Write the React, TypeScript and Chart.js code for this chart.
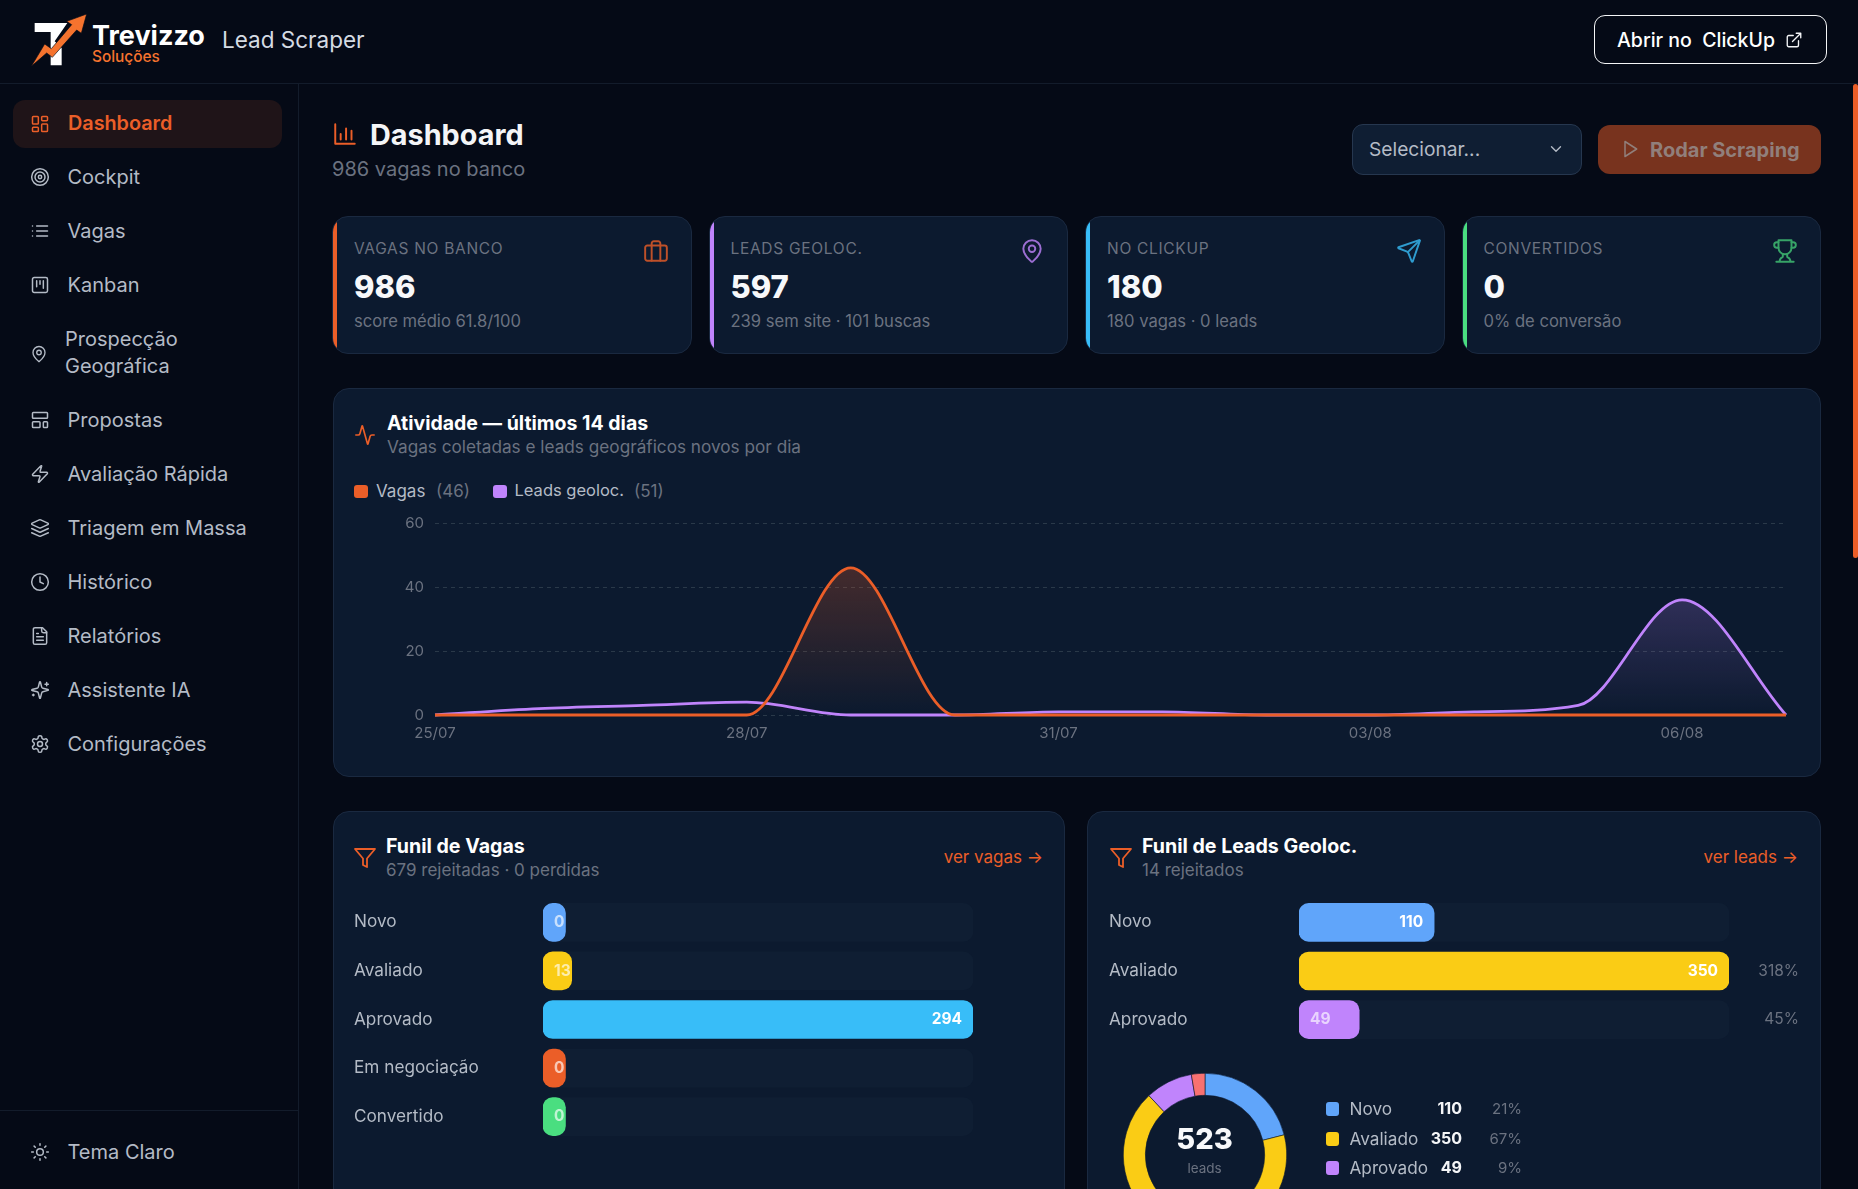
import { useEffect, useRef } from 'react';
import type { CSSProperties, ReactNode } from 'react';
import { Chart, registerables } from 'chart.js';

Chart.register(...registerables);

const FONT = 'Inter, "Noto Sans", sans-serif';

const BG = '#050a16';
const CARD = '#0c1a2f';
const LINE = '#1a2940';
const TRACK = '#0f1e33';
const ORANGE = '#eb5e28';
const PURPLE = '#c084fc';
const MUTED = '#6b7280';
const SOFT = '#b4bbc6';

// Atividade
const days = ['25/07', '26/07', '27/07', '28/07', '29/07', '30/07', '31/07', '01/08', '02/08', '03/08', '04/08', '05/08', '06/08', '07/08'];
const vagasPerDay = [0, 0, 0, 0, 46, 0, 0, 0, 0, 0, 0, 0, 0, 0];
const leadsPerDay = [0, 2, 3, 4, 0, 0, 1, 1, 0, 0, 1, 3, 36, 0];
const yTicks = [0, 20, 40, 60];

// Funil de vagas
const vagasStages = ['Novo', 'Avaliado', 'Aprovado', 'Em negociação', 'Convertido'];
const vagasStageValues = [0, 13, 294, 0, 0];
const vagasStageColors = ['#60a5fa', '#facc15', '#38bdf8', ORANGE, '#4ade80'];

// Funil de leads
const leadStages = ['Novo', 'Avaliado', 'Aprovado'];
const leadStageValues = [110, 350, 49];
const leadStageColors = ['#60a5fa', '#facc15', PURPLE];
const leadStageNotes = ['', '318%', '45%'];

// Donut
const donutLabels = ['Novo', 'Avaliado', 'Aprovado', 'Rejeitado'];
const donutValues = [110, 350, 49, 14];
const donutColors = ['#60a5fa', '#facc15', PURPLE, '#f87171'];
const donutShares = ['21%', '67%', '9%', '3%'];

const navItems: [string, string, number][] = [
  ['target', 'Cockpit', 177],
  ['list', 'Vagas', 231],
  ['kanban', 'Kanban', 285],
  ['template', 'Propostas', 420],
  ['zap', 'Avaliação Rápida', 474],
  ['layers', 'Triagem em Massa', 528],
  ['clock', 'Histórico', 582],
  ['file', 'Relatórios', 636],
  ['sparkles', 'Assistente IA', 690],
  ['settings', 'Configurações', 744],
];

const kpis = [
  { label: 'VAGAS NO BANCO', value: '986', sub: 'score médio 61.8/100', color: ORANGE, icon: 'briefcase', iconAlpha: 0.8 },
  { label: 'LEADS GEOLOC.', value: '597', sub: '239 sem site · 101 buscas', color: PURPLE, icon: 'pin', iconAlpha: 0.8 },
  { label: 'NO CLICKUP', value: '180', sub: '180 vagas · 0 leads', color: '#38bdf8', icon: 'send', iconAlpha: 0.8 },
  { label: 'CONVERTIDOS', value: '0', sub: '0% de conversão', color: '#4ade80', icon: 'trophy', iconAlpha: 0.7 },
];

const ICONS: Record<string, ReactNode> = {
  dashboard: (<><rect x="3" y="3" width="7" height="9" rx="1" /><rect x="14" y="3" width="7" height="5" rx="1" /><rect x="14" y="12" width="7" height="9" rx="1" /><rect x="3" y="16" width="7" height="5" rx="1" /></>),
  target: (<><circle cx="12" cy="12" r="10" /><circle cx="12" cy="12" r="6" /><circle cx="12" cy="12" r="2" /></>),
  list: (<><path d="M3 6h.01M3 12h.01M3 18h.01M8 6h13M8 12h13M8 18h13" /></>),
  kanban: (<><rect x="3" y="3" width="18" height="18" rx="2" /><path d="M8 7v7M12 7v4M16 7v9" /></>),
  pin: (<><path d="M20 10c0 4.993-5.539 10.193-7.399 11.799a1 1 0 0 1-1.202 0C9.539 20.193 4 14.993 4 10a8 8 0 0 1 16 0" /><circle cx="12" cy="10" r="3" /></>),
  template: (<><rect x="3" y="3" width="18" height="7" rx="1" /><rect x="3" y="14" width="9" height="7" rx="1" /><rect x="16" y="14" width="5" height="7" rx="1" /></>),
  zap: (<path d="M4 14a1 1 0 0 1-.78-1.63l9.9-10.2a.5.5 0 0 1 .86.46l-1.92 6.02A1 1 0 0 0 13 10h7a1 1 0 0 1 .78 1.63l-9.9 10.2a.5.5 0 0 1-.86-.46l1.92-6.02A1 1 0 0 0 11 14z" />),
  layers: (<><path d="m12.83 2.18a2 2 0 0 0-1.66 0L2.6 6.08a1 1 0 0 0 0 1.83l8.58 3.91a2 2 0 0 0 1.66 0l8.58-3.9a1 1 0 0 0 0-1.83Z" /><path d="m22 17.65-9.17 4.16a2 2 0 0 1-1.66 0L2 17.65" /><path d="m22 12.65-9.17 4.16a2 2 0 0 1-1.66 0L2 12.65" /></>),
  clock: (<><circle cx="12" cy="12" r="10" /><path d="M12 6v6l4 2" /></>),
  file: (<><path d="M15 2H6a2 2 0 0 0-2 2v16a2 2 0 0 0 2 2h12a2 2 0 0 0 2-2V7Z" /><path d="M14 2v4a2 2 0 0 0 2 2h4" /><path d="M10 9H8M16 13H8M16 17H8" /></>),
  sparkles: (<><path d="M9.937 15.5A2 2 0 0 0 8.5 14.063l-6.135-1.582a.5.5 0 0 1 0-.962L8.5 9.936A2 2 0 0 0 9.937 8.5l1.582-6.135a.5.5 0 0 1 .963 0L14.063 8.5A2 2 0 0 0 15.5 9.937l6.135 1.581a.5.5 0 0 1 0 .964L15.5 14.063a2 2 0 0 0-1.437 1.437l-1.582 6.135a.5.5 0 0 1-.963 0z" /><path d="M20 3v4M22 5h-4M4 17v2M5 18H3" /></>),
  settings: (<><path d="M12.22 2h-.44a2 2 0 0 0-2 2v.18a2 2 0 0 1-1 1.73l-.43.25a2 2 0 0 1-2 0l-.15-.08a2 2 0 0 0-2.73.73l-.22.38a2 2 0 0 0 .73 2.73l.15.1a2 2 0 0 1 1 1.72v.51a2 2 0 0 1-1 1.74l-.15.09a2 2 0 0 0-.73 2.73l.22.38a2 2 0 0 0 2.73.73l.15-.08a2 2 0 0 1 2 0l.43.25a2 2 0 0 1 1 1.73V20a2 2 0 0 0 2 2h.44a2 2 0 0 0 2-2v-.18a2 2 0 0 1 1-1.73l.43-.25a2 2 0 0 1 2 0l.15.08a2 2 0 0 0 2.73-.73l.22-.39a2 2 0 0 0-.73-2.73l-.15-.08a2 2 0 0 1-1-1.74v-.5a2 2 0 0 1 1-1.74l.15-.09a2 2 0 0 0 .73-2.73l-.22-.38a2 2 0 0 0-2.73-.73l-.15.08a2 2 0 0 1-2 0l-.43-.25a2 2 0 0 1-1-1.73V4a2 2 0 0 0-2-2z" /><circle cx="12" cy="12" r="3" /></>),
  sun: (<><circle cx="12" cy="12" r="4" /><path d="M12 2v2M12 20v2M4.93 4.93l1.41 1.41M17.66 17.66l1.41 1.41M2 12h2M20 12h2M6.34 17.66l-1.41 1.41M19.07 4.93l-1.41 1.41" /></>),
  external: (<><path d="M15 3h6v6M10 14 21 3" /><path d="M18 13v6a2 2 0 0 1-2 2H5a2 2 0 0 1-2-2V8a2 2 0 0 1 2-2h6" /></>),
  chevron: (<path d="m6 9 6 6 6-6" />),
  play: (<path d="M6 3l14 9-14 9V3z" />),
  briefcase: (<><rect x="2" y="7" width="20" height="14" rx="2" /><path d="M16 21V5a2 2 0 0 0-2-2h-4a2 2 0 0 0-2 2v16" /></>),
  send: (<><path d="M14.536 21.686a.5.5 0 0 0 .937-.024l6.5-19a.496.496 0 0 0-.635-.635l-19 6.5a.5.5 0 0 0-.024.937l7.93 3.18a2 2 0 0 1 1.112 1.11z" /><path d="m21.854 2.147-10.94 10.939" /></>),
  trophy: (<><path d="M6 9H4.5a2.5 2.5 0 0 1 0-5H6M18 9h1.5a2.5 2.5 0 0 0 0-5H18M4 22h16M10 14.66V17c0 .55-.47.98-.97 1.21C7.85 18.75 7 20.24 7 22M14 14.66V17c0 .55.47.98.97 1.21C16.15 18.75 17 20.24 17 22" /><path d="M18 2H6v7a6 6 0 0 0 12 0V2Z" /></>),
  activity: (<path d="M22 12h-2.48a2 2 0 0 0-1.93 1.46l-2.35 8.36a.25.25 0 0 1-.48 0L9.24 2.18a.25.25 0 0 0-.48 0l-2.35 8.36A2 2 0 0 1 4.49 12H2" />),
  funnel: (<path d="M22 3H2l8 9.46V19l4 2v-8.54L22 3z" />),
  bars: (<path d="M3 3v18h18M8 17v-5M13 17V7M18 17v-8" />),
};

const Icon = ({ name, x, y, size = 24, color, opacity = 1, stroke = 1.8 }: { name: string; x: number; y: number; size?: number; color: string; opacity?: number; stroke?: number }) => (
  <svg
    viewBox="0 0 24 24"
    width={size}
    height={size}
    fill="none"
    stroke={color}
    strokeWidth={stroke}
    strokeLinecap="round"
    strokeLinejoin="round"
    style={{ position: 'absolute', left: x - size / 2, top: y - size / 2, opacity }}
  >
    {ICONS[name]}
  </svg>
);

type TextProps = { x: number; y: number; size: number; color: string; weight?: number; right?: boolean; spacing?: number; children: ReactNode };

// y is the vertical centre of the line; with right set, x is the right edge
const Text = ({ x, y, size, color, weight = 400, right, spacing = 0, children }: TextProps) => {
  const style: CSSProperties = {
    position: 'absolute',
    top: y,
    transform: 'translateY(-50%)',
    fontSize: size,
    lineHeight: 1.2,
    fontWeight: weight,
    letterSpacing: spacing,
    color,
    whiteSpace: 'nowrap',
  };
  if (right) style.right = 1858 - x;
  else style.left = x;
  return <div style={style}>{children}</div>;
};

const Box = ({ x, y, w, h, style, children }: { x: number; y: number; w: number; h: number; style: CSSProperties; children?: ReactNode }) => (
  <div style={{ position: 'absolute', left: x, top: y, width: w, height: h, boxSizing: 'border-box', ...style }}>{children}</div>
);

const cardStyle: CSSProperties = { background: CARD, border: `1px solid ${LINE}`, borderRadius: 16 };

const ActivityChart = () => {
  const ref = useRef<HTMLCanvasElement>(null);

  useEffect(() => {
    if (!ref.current) return;

    const fade = (values: number[], rgb: string, alpha: number) => (ctx: any) => {
      const { chart } = ctx;
      if (!chart.chartArea) return 'transparent';
      const top = chart.scales.y.getPixelForValue(Math.max(...values));
      const g = chart.ctx.createLinearGradient(0, top, 0, chart.chartArea.bottom);
      g.addColorStop(0, `rgba(${rgb}, ${alpha})`);
      g.addColorStop(1, `rgba(${rgb}, 0)`);
      return g;
    };

    const chart = new Chart(ref.current, {
      type: 'line',
      data: {
        labels: days,
        datasets: [
          {
            label: 'Vagas',
            data: vagasPerDay,
            borderColor: ORANGE,
            backgroundColor: fade(vagasPerDay, '235, 94, 40', 0.25),
            fill: 'origin',
          },
          {
            label: 'Leads geoloc.',
            data: leadsPerDay,
            borderColor: PURPLE,
            backgroundColor: fade(leadsPerDay, '192, 132, 252', 0.2),
            fill: 'origin',
          },
        ],
      },
      options: {
        responsive: false,
        animation: false,
        events: [],
        clip: false,
        layout: { padding: { top: 24, right: 8 } },
        elements: {
          point: { radius: 0 },
          line: { borderWidth: 2.8, cubicInterpolationMode: 'monotone' },
        },
        plugins: { legend: { display: false }, tooltip: { enabled: false } },
        scales: {
          x: {
            grid: { display: false },
            border: { display: false },
            afterFit: (axis: any) => { axis.height = 30; },
            ticks: {
              autoSkip: false,
              maxRotation: 0,
              color: MUTED,
              font: { family: FONT, size: 15 },
              padding: 1,
              callback: (_v: any, i: number) => (i % 3 === 0 ? days[i] : ''),
            },
          },
          y: {
            min: yTicks[0],
            max: yTicks[yTicks.length - 1],
            afterFit: (axis: any) => { axis.width = 81; },
            afterBuildTicks: (axis: any) => { axis.ticks = yTicks.map((value) => ({ value })); },
            border: { display: false, dash: [4, 4] },
            grid: { color: '#2a3949', tickLength: 0, lineWidth: 1 },
            ticks: { color: MUTED, font: { family: FONT, size: 15 }, padding: 11 },
          },
        },
      },
    });

    return () => {
      chart.destroy();
    };
  }, []);

  return <canvas ref={ref} width={1440} height={246} style={{ position: 'absolute', left: 354, top: 499 }} />;
};

const stageLabels = {
  id: 'stageLabels',
  // a bar is never narrower than its count, as in the original
  beforeDatasetsDraw(chart: any) {
    const { ctx } = chart;
    ctx.save();
    ctx.font = `700 15.5px ${FONT}`;
    chart.getDatasetMeta(0).data.forEach((bar: any, i: number) => {
      const fit = ctx.measureText(String(chart.data.datasets[0].data[i])).width + 12;
      bar.x = Math.max(bar.x, bar.base + fit);
    });
    ctx.restore();
  },
  afterDatasetsDraw(chart: any) {
    const { ctx, chartArea } = chart;
    const notes: string[] = chart.options.plugins.stageLabels.notes;
    const bars = chart.getDatasetMeta(0).data;
    ctx.save();
    ctx.textBaseline = 'middle';
    bars.forEach((bar: any, i: number) => {
      const wide = bar.x - bar.base > 100;
      ctx.font = `700 15.5px ${FONT}`;
      ctx.fillStyle = wide ? '#ffffff' : 'rgba(255, 255, 255, 0.65)';
      ctx.textAlign = wide ? 'right' : 'left';
      ctx.fillText(String(chart.data.datasets[0].data[i]), wide ? bar.x - 11 : bar.base + 11, bar.y);
      if (notes[i]) {
        ctx.font = `400 15.5px ${FONT}`;
        ctx.fillStyle = MUTED;
        ctx.textAlign = 'right';
        ctx.fillText(notes[i], chartArea.right + 70, bar.y);
      }
    });
    ctx.restore();
  },
};

type FunnelProps = { stages: string[]; values: number[]; colors: string[]; notes: string[]; x: number; y: number; labelWidth: number };

const FunnelChart = ({ stages, values, colors, notes, x, y, labelWidth }: FunnelProps) => {
  const ref = useRef<HTMLCanvasElement>(null);
  const top = Math.max(...values);

  useEffect(() => {
    if (!ref.current) return;

    const chart = new Chart(ref.current, {
      type: 'bar',
      plugins: [stageLabels],
      data: {
        labels: stages,
        datasets: [
          {
            data: values,
            backgroundColor: colors,
            order: 1,
          },
          {
            data: values.map(() => top),
            backgroundColor: TRACK,
            order: 2,
          },
        ],
      },
      options: {
        responsive: false,
        animation: false,
        events: [],
        indexAxis: 'y',
        layout: { padding: { top: 16, bottom: 16, right: 70 } },
        elements: { bar: { borderRadius: 10, borderSkipped: false } },
        datasets: { bar: { grouped: false, barThickness: 38 } },
        plugins: { legend: { display: false }, tooltip: { enabled: false }, stageLabels: { notes } },
        scales: {
          x: { display: false, min: 0, max: top },
          y: {
            afterFit: (axis: any) => { axis.width = labelWidth; },
            grid: { display: false },
            border: { display: false },
            ticks: { crossAlign: 'far', autoSkip: false, color: SOFT, font: { family: FONT, size: 17.2 } },
          },
        },
      } as any,
    });

    return () => {
      chart.destroy();
    };
  }, []);

  return (
    <canvas
      ref={ref}
      width={labelWidth + 430 + 70}
      height={Math.ceil(stages.length * 48.5) + 32}
      style={{ position: 'absolute', left: x, top: y - 16 }}
    />
  );
};

const DonutChart = () => {
  const ref = useRef<HTMLCanvasElement>(null);

  useEffect(() => {
    if (!ref.current) return;

    const chart = new Chart(ref.current, {
      type: 'doughnut',
      data: {
        labels: donutLabels,
        datasets: [{ data: donutValues, backgroundColor: donutColors, borderColor: CARD, borderWidth: 0.6 }],
      },
      options: {
        responsive: false,
        animation: false,
        events: [],
        cutout: '73%',
        plugins: { legend: { display: false }, tooltip: { enabled: false } },
      },
    });

    return () => {
      chart.destroy();
    };
  }, []);

  return <canvas ref={ref} width={164} height={164} style={{ position: 'absolute', left: 1122.5, top: 1072.5 }} />;
};

const Logo = () => (
  <svg width={80} height={64} viewBox="0 0 240 192" style={{ position: 'absolute', left: 24, top: 8 }}>
    <path d="M32 45H130L92 100 113 120V172H80V72H32Z" fill="#ffffff" />
    <path d="M188 18 128 40 143 50 82 122 62 108 22 175 68 135 85 148 158 66 172 76Z" fill="#f5732e" stroke={BG} strokeWidth={2} />
  </svg>
);

export default function App() {
  return (
    <div style={{ position: 'fixed', inset: 0, overflow: 'hidden', background: BG, fontFamily: FONT }}>
      {/* top bar */}
      <Box x={0} y={83} w={1858} h={1} style={{ background: '#131c2b' }} />
      <Logo />
      <Text x={92} y={36} size={27} weight={700} color="#ffffff">Trevizzo</Text>
      <Text x={92} y={57} size={15.4} weight={500} color="#f5732e">Soluções</Text>
      <Text x={222} y={38.5} size={22.5} color="#d5dbe3">Lead Scraper</Text>
      <Box x={1594} y={15} w={233} h={49} style={{ border: '1px solid #f4f5f7', borderRadius: 11 }} />
      <Text x={1617} y={40.5} size={19.5} weight={500} color="#ffffff">Abrir no&nbsp; ClickUp</Text>
      <Icon name="external" x={1794} y={40} size={18} color="#f4f5f7" />

      {/* sidebar */}
      <Box x={298} y={84} w={1} h={1105} style={{ background: '#131c2b' }} />
      <Box x={13} y={100} w={269} h={48} style={{ background: '#1f1418', borderRadius: 12 }} />
      <Icon name="dashboard" x={40} y={124} size={20} color={ORANGE} />
      <Text x={68} y={123.5} size={19.8} weight={600} color={ORANGE}>Dashboard</Text>
      {navItems.map(([icon, label, y]) => (
        <div key={label}>
          <Icon name={icon} x={40} y={y} size={20} color={SOFT} />
          <Text x={67.5} y={y} size={20} color={SOFT}>{label}</Text>
        </div>
      ))}
      <Icon name="pin" x={38.5} y={354} size={18} color={SOFT} />
      <Text x={65} y={339} size={20} color={SOFT}>Prospecção</Text>
      <Text x={65} y={366} size={20} color={SOFT}>Geográfica</Text>
      <Box x={0} y={1110} w={298} h={1} style={{ background: '#131c2b' }} />
      <Icon name="sun" x={40} y={1152} size={20} color={SOFT} />
      <Text x={67.5} y={1152} size={20} color={SOFT}>Tema Claro</Text>

      {/* page title */}
      <Icon name="bars" x={345} y={134} size={26} color={ORANGE} />
      <Text x={370} y={135} size={28.8} weight={700} color="#f4f5f7">Dashboard</Text>
      <Text x={332} y={168.5} size={20} color={MUTED}>986 vagas no banco</Text>
      <Box x={1352} y={124} w={230} h={51} style={{ background: TRACK, border: '1px solid #26374f', borderRadius: 11 }} />
      <Text x={1369} y={149.5} size={19.2} color={SOFT}>Selecionar...</Text>
      <Icon name="chevron" x={1555.5} y={149} size={18} color={SOFT} />
      <Box x={1598} y={125} w={223} h={49} style={{ background: '#78331e', borderRadius: 12 }} />
      <Icon name="play" x={1630} y={149} size={20} color="#917f7b" />
      <Text x={1650} y={149.5} size={20} weight={700} color="#917f7b">Rodar Scraping</Text>

      {/* kpis */}
      {kpis.map((kpi, i) => {
        const x = 332 + i * 376.5;
        return (
          <div key={kpi.label}>
            <Box x={x} y={216} w={359.5} h={138} style={{ ...cardStyle, overflow: 'hidden' }}>
              <div style={{ position: 'absolute', left: -1, top: -1, bottom: -1, width: 5, background: kpi.color }} />
            </Box>
            <Text x={x + 22} y={249} size={15.5} spacing={0.7} weight={400} color={MUTED}>{kpi.label}</Text>
            <Text x={x + 22} y={286.5} size={31} weight={800} color="#f7f8fa">{kpi.value}</Text>
            <Text x={x + 22} y={322} size={16.6} color={MUTED}>{kpi.sub}</Text>
            <Icon name={kpi.icon} x={x + 323.5} y={251} size={26} color={kpi.color} opacity={kpi.iconAlpha} />
          </div>
        );
      })}

      {/* atividade */}
      <Box x={332.5} y={388} w={1488} h={389} style={cardStyle} />
      <Icon name="activity" x={365} y={435} size={22} color={ORANGE} />
      <Text x={387} y={423.5} size={19.5} weight={700} color="#ffffff">Atividade — últimos 14 dias</Text>
      <Text x={387} y={447} size={17.2} color={MUTED}>Vagas coletadas e leads geográficos novos por dia</Text>
      <Box x={354} y={485} w={14} h={13} style={{ background: ORANGE, borderRadius: 3 }} />
      <Text x={376} y={490.5} size={17} color={SOFT}>Vagas</Text>
      <Text x={436} y={490.5} size={17} color={MUTED}>(46)</Text>
      <Box x={493} y={485} w={14} h={13} style={{ background: PURPLE, borderRadius: 3 }} />
      <Text x={514.5} y={490.5} size={16.5} color={SOFT}>Leads geoloc.</Text>
      <Text x={634} y={490.5} size={17} color={MUTED}>(51)</Text>
      <ActivityChart />

      {/* funil de vagas */}
      <Box x={332.5} y={811} w={732} h={500} style={cardStyle} />
      <Icon name="funnel" x={365} y={858} size={24} color={ORANGE} />
      <Text x={386} y={846.5} size={19.6} weight={700} color="#ffffff">Funil de Vagas</Text>
      <Text x={386} y={869.5} size={17} color={MUTED}>679 rejeitadas · 0 perdidas</Text>
      <Text x={1043} y={857} right size={17} color={ORANGE}>ver vagas →</Text>
      <FunnelChart stages={vagasStages} values={vagasStageValues} colors={vagasStageColors} notes={[]} x={354} y={898} labelWidth={189} />

      {/* funil de leads */}
      <Box x={1087} y={811} w={734} h={500} style={cardStyle} />
      <Icon name="funnel" x={1121} y={858} size={24} color={ORANGE} />
      <Text x={1142} y={846.5} size={19.6} weight={700} color="#ffffff">Funil de Leads Geoloc.</Text>
      <Text x={1142} y={869.5} size={17} color={MUTED}>14 rejeitados</Text>
      <Text x={1798} y={857} right size={17} color={ORANGE}>ver leads →</Text>
      <FunnelChart stages={leadStages} values={leadStageValues} colors={leadStageColors} notes={leadStageNotes} x={1109} y={898} labelWidth={190} />

      {/* donut */}
      <DonutChart />
      <Text x={1204.5} y={1139} size={29} weight={800} color="#f7f8fa">
        <span style={{ display: 'block', transform: 'translateX(-50%)' }}>{donutValues.reduce((a, b) => a + b, 0)}</span>
      </Text>
      <Text x={1204.5} y={1168} size={13.5} color={MUTED}>
        <span style={{ display: 'block', transform: 'translateX(-50%)' }}>leads</span>
      </Text>
      {donutLabels.slice(0, 3).map((label, i) => {
        const y = 1109 + i * 29.7;
        return (
          <div key={label}>
            <Box x={1326} y={y - 7} w={13} h={14} style={{ background: donutColors[i], borderRadius: 3 }} />
            <Text x={1349.5} y={y} size={17.2} color={SOFT}>{label}</Text>
            <Text x={1462} y={y} right size={16} weight={700} color="#f4f5f7">{donutValues[i]}</Text>
            <Text x={1522} y={y} right size={15} color={MUTED}>{donutShares[i]}</Text>
          </div>
        );
      })}

      {/* scrollbar */}
      <Box x={1853} y={84} w={5} h={474} style={{ background: ORANGE, borderRadius: 3 }} />
    </div>
  );
}
